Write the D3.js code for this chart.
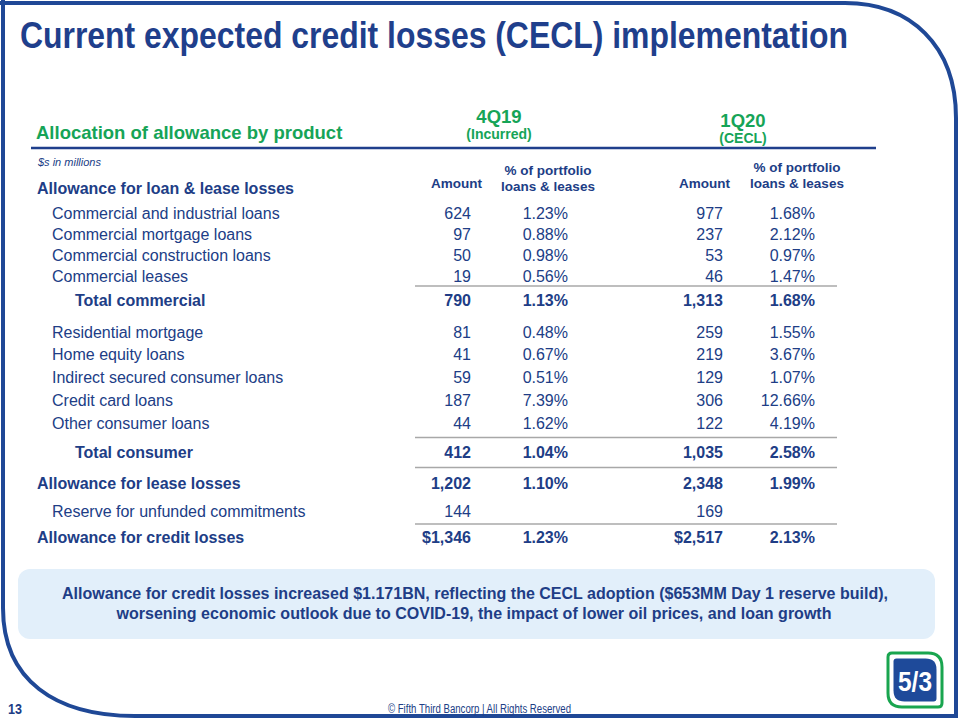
<!DOCTYPE html>
<html>
<head>
<meta charset="utf-8">
<script src="https://cdn.jsdelivr.net/npm/d3@7"></script>
<style>
  html, body { margin: 0; padding: 0; background: #ffffff; }
  svg { display: block; font-family: "Liberation Sans", Arial, sans-serif; }
</style>
</head>
<body>
<svg id="chart" width="960" height="720"></svg>
<script>
// ---------------- DATA ----------------
const rowLabels = [
  "Commercial and industrial loans",
  "Commercial mortgage loans",
  "Commercial construction loans",
  "Commercial leases",
  "Total commercial",
  "Residential mortgage",
  "Home equity loans",
  "Indirect secured consumer loans",
  "Credit card loans",
  "Other consumer loans",
  "Total consumer",
  "Allowance for lease losses",
  "Reserve for unfunded commitments",
  "Allowance for credit losses"
];
const rowKinds = ["item","item","item","item","subtotal","item","item","item","item","item","subtotal","total","item","grand"];
const amount4Q19 = [624, 97, 50, 19, 790, 81, 41, 59, 187, 44, 412, 1202, 144, 1346];
const pct4Q19    = [1.23, 0.88, 0.98, 0.56, 1.13, 0.48, 0.67, 0.51, 7.39, 1.62, 1.04, 1.10, null, 1.23];
const amount1Q20 = [977, 237, 53, 46, 1313, 259, 219, 129, 306, 122, 1035, 2348, 169, 2517];
const pct1Q20    = [1.68, 2.12, 0.97, 1.47, 1.68, 1.55, 3.67, 1.07, 12.66, 4.19, 2.58, 1.99, null, 2.13];
const periods = ["4Q19", "1Q20"];
const periodNotes = ["(Incurred)", "(CECL)"];
const colHeaderAmount = "Amount";
const colHeaderPct = ["% of portfolio", "loans & leases"];
const titleText = "Current expected credit losses (CECL) implementation";
const sectionText = "Allocation of allowance by product";
const unitsText = "$s in millions";
const groupHeader = "Allowance for loan & lease losses";
const noteLines = [
  "Allowance for credit losses increased $1.171BN, reflecting the CECL adoption ($653MM Day 1 reserve build),",
  "worsening economic outlook due to COVID-19, the impact of lower oil prices, and loan growth"
];
const footerText = "\u00A9 Fifth Third Bancorp | All Rights Reserved";
const pageNumber = "13";

// ---------------- STYLE / LAYOUT ----------------
const C = {
  frame: "#1f4896",
  title: "#1f3f8c",
  green: "#16a457",
  text: "#203d86",
  rule: "#a8a8a8",
  box: "#e2effa"
};
const svg = d3.select("#chart");

// frame
svg.append("path")
  .attr("d", "M3,0 L3,608 C3,680 55,716 135,716 L956,716 L956,118 C956,45 910,3 845,3 L0,3")
  .attr("fill", "none").attr("stroke", C.frame).attr("stroke-width", 4);

// title
svg.append("text").attr("x", 20).attr("y", 48)
  .attr("font-size", 36).attr("font-weight", "bold").attr("fill", C.title)
  .attr("textLength", 828).attr("lengthAdjust", "spacingAndGlyphs")
  .text(titleText);

// section header
svg.append("text").attr("x", 36).attr("y", 139)
  .attr("font-size", 18.5).attr("font-weight", "bold").attr("fill", C.green)
  .text(sectionText);

// period headers
const periodX = d3.scaleOrdinal().domain(periods).range([499, 743]);
const periodY = d3.scaleOrdinal().domain(periods).range([123, 127]);
periods.forEach((p, i) => {
  svg.append("text").attr("x", periodX(p)).attr("y", periodY(p))
    .attr("text-anchor", "middle").attr("font-size", 18.5).attr("font-weight", "bold")
    .attr("fill", C.green).text(p);
  svg.append("text").attr("x", periodX(p)).attr("y", periodY(p) + 16)
    .attr("text-anchor", "middle").attr("font-size", 14).attr("font-weight", "bold")
    .attr("fill", C.green).text(periodNotes[i]);
});

// blue rule
svg.append("line").attr("x1", 31).attr("x2", 876).attr("y1", 148).attr("y2", 148)
  .attr("stroke", C.title).attr("stroke-width", 2.5);

// units
svg.append("text").attr("x", 38).attr("y", 166)
  .attr("font-size", 11).attr("font-style", "italic").attr("fill", C.text)
  .text(unitsText);

// group header
svg.append("text").attr("x", 37).attr("y", 194)
  .attr("font-size", 16).attr("font-weight", "bold").attr("fill", C.text)
  .text(groupHeader);

// columns
const cols = ["amt19", "pct19", "amt20", "pct20"];
const colX = d3.scaleOrdinal().domain(cols).range([471, 568, 723, 815]);
const colData = { amt19: amount4Q19, pct19: pct4Q19, amt20: amount1Q20, pct20: pct1Q20 };

// column headers
const amtHeadX = d3.scaleOrdinal().domain(periods).range([482, 730]);
const pctHeadX = d3.scaleOrdinal().domain(periods).range([548, 797]);
const pctHeadY = d3.scaleOrdinal().domain(periods).range([175, 172]);
periods.forEach(p => {
  svg.append("text").attr("x", amtHeadX(p)).attr("y", 188)
    .attr("text-anchor", "end").attr("font-size", 13.5).attr("font-weight", "bold")
    .attr("fill", C.text).text(colHeaderAmount);
  colHeaderPct.forEach((t, j) => {
    svg.append("text").attr("x", pctHeadX(p)).attr("y", pctHeadY(p) + j * 15.5)
      .attr("text-anchor", "middle").attr("font-size", 13.5).attr("font-weight", "bold")
      .attr("fill", C.text).text(t);
  });
});

// vertical layout: row spacing units (layout, not data)
const rowSpacing = [0, 21, 21, 21, 24, 32, 22, 23, 23, 23, 29, 31, 28, 26];
const rowUnits = d3.cumsum(rowSpacing);
const y = d3.scaleLinear().domain([0, 1]).range([219, 220]);

const labelX = d3.scaleOrdinal().domain(["item","subtotal","total","grand"]).range([52, 75, 37, 37]);
const isBold = k => k !== "item";
const fmtAmt = d3.format(",");
const fmtPct = d3.format(".2f");

const rows = svg.append("g").selectAll("g").data(rowLabels).join("g")
  .attr("transform", (d, i) => `translate(0,${y(rowUnits[i])})`);

rows.append("text")
  .attr("x", (d, i) => labelX(rowKinds[i]))
  .attr("font-size", 16)
  .attr("font-weight", (d, i) => isBold(rowKinds[i]) ? "bold" : "normal")
  .attr("fill", C.text)
  .text(d => d);

cols.forEach(c => {
  rows.append("text")
    .attr("x", colX(c))
    .attr("text-anchor", "end")
    .attr("font-size", 16)
    .attr("font-weight", (d, i) => isBold(rowKinds[i]) ? "bold" : "normal")
    .attr("fill", C.text)
    .text((d, i) => {
      const v = colData[c][i];
      if (v == null) return "";
      if (c.startsWith("pct")) return fmtPct(v) + "%";
      return (rowKinds[i] === "grand" ? "$" : "") + fmtAmt(v);
    });
});

// separator rules above subtotal / total rows
const ruleRows = [4, 10, 11, 13];
svg.append("g").selectAll("line").data(ruleRows).join("line")
  .attr("x1", 415).attr("x2", 837)
  .attr("y1", i => (y(rowUnits[i - 1]) + y(rowUnits[i])) / 2 - 6 + (i === 4 ? -2 : 0))
  .attr("y2", i => (y(rowUnits[i - 1]) + y(rowUnits[i])) / 2 - 6 + (i === 4 ? -2 : 0))
  .attr("stroke", C.rule).attr("stroke-width", 1.5);

// note box
svg.append("rect").attr("x", 18).attr("y", 569).attr("width", 917).attr("height", 70)
  .attr("rx", 12).attr("fill", C.box);
const noteCX = [475, 474];
const noteW = [826, 715];
noteLines.forEach((t, i) => {
  svg.append("text").attr("x", noteCX[i] - noteW[i] / 2).attr("y", 599 + i * 20)
    .attr("font-size", 17).attr("font-weight", "bold").attr("fill", C.text)
    .attr("textLength", noteW[i]).attr("lengthAdjust", "spacingAndGlyphs")
    .text(t);
});

// footer
svg.append("text").attr("x", 8).attr("y", 714)
  .attr("font-size", 14).attr("font-weight", "bold").attr("fill", C.text)
  .attr("textLength", 14).attr("lengthAdjust", "spacingAndGlyphs")
  .text(pageNumber);
svg.append("text").attr("x", 388).attr("y", 713)
  .attr("font-size", 12).attr("fill", C.text)
  .attr("textLength", 183).attr("lengthAdjust", "spacingAndGlyphs")
  .text(footerText);

// logo
function leaf(x, yy, w, h, rs, rl) {
  // small radius top-left & bottom-right, large radius top-right & bottom-left
  return `M${x + rs},${yy} L${x + w - rl},${yy} Q${x + w},${yy} ${x + w},${yy + rl} ` +
         `L${x + w},${yy + h - rs} Q${x + w},${yy + h} ${x + w - rs},${yy + h} ` +
         `L${x + rl},${yy + h} Q${x},${yy + h} ${x},${yy + h - rl} ` +
         `L${x},${yy + rs} Q${x},${yy} ${x + rs},${yy} Z`;
}
svg.append("path").attr("d", leaf(888, 653, 54, 54, 4, 14))
  .attr("fill", "#ffffff").attr("stroke", "#19a54f").attr("stroke-width", 3);
svg.append("path").attr("d", leaf(893.5, 658.5, 43, 43, 3, 11)).attr("fill", "#1e4a9a");
svg.append("text").attr("x", 915).attr("y", 691)
  .attr("text-anchor", "middle").attr("font-size", 28).attr("font-weight", "bold")
  .attr("fill", "#ffffff")
  .attr("textLength", 34).attr("lengthAdjust", "spacingAndGlyphs")
  .text("5/3");
</script>
</body>
</html>
